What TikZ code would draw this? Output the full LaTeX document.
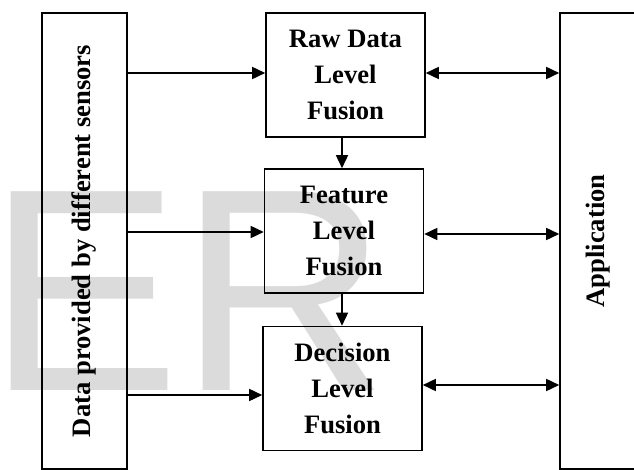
\documentclass[tikz,border=0pt]{standalone}
\usepackage{fontspec}
\setmainfont{Liberation Serif}
\newfontfamily\wmfont{Liberation Sans}
\usetikzlibrary{arrows.meta}
\tikzset{
  lbl/.style={font=\fontsize{26.6}{36}\selectfont\bfseries, align=center, inner sep=0pt},
  fusebox/.style={draw, line width=1.6pt, minimum width=159pt, minimum height=124pt, lbl},
  sidebox/.style={draw, line width=1.6pt, lbl},
  arr/.style={line width=1.6pt, -{Triangle[length=13pt,width=12pt]}},
  darr/.style={line width=1.6pt, {Triangle[length=13pt,width=12pt]}-{Triangle[length=13pt,width=12pt]}},
  wmtext/.style={text=gray!28, inner sep=0pt, font=\wmfont\fontsize{289}{289}\selectfont}
}
\begin{document}
\begin{tikzpicture}[x=1pt,y=-1pt]
  \useasboundingbox (0,0) rectangle (634,470);
  \clip (0,0) rectangle (634,470);
  % watermark
  \node[wmtext, anchor=base west] (wm) at (-13,390) {ER};
  % side boxes
  \node[sidebox, minimum width=85pt, minimum height=456pt] (src) at (84.5,241) {};
  \node[lbl, rotate=90] (srctxt) at (src.center) {Data provided by different sensors};
  \node[sidebox, minimum width=78pt, minimum height=456pt] (app) at (599,241) {};
  \node[lbl, rotate=90] (apptxt) at (598,241) {Application};
  % fusion levels
  \node[fusebox] (raw) at (345.5,75) {Raw Data\\Level\\Fusion};
  \node[fusebox] (feat) at (344,231) {Feature\\Level\\Fusion};
  \node[fusebox] (dec) at (342.5,388.5) {Decision\\Level\\Fusion};
  % sensor inputs
  \draw[arr] (src.east |- 0,73) -- (raw.west |- 0,73);
  \draw[arr] (src.east |- 0,232) -- (feat.west |- 0,232);
  \draw[arr] (src.east |- 0,395) -- (dec.west |- 0,395);
  % level chain
  \draw[arr] (342,137) coordinate (c1) -- (c1 |- feat.north);
  \draw[arr] (342,293) coordinate (c2) -- (c2 |- dec.north);
  % application links
  \draw[darr] (raw.east |- 0,73) -- (app.west |- 0,73);
  \draw[darr] (feat.east |- 0,234) -- (app.west |- 0,234);
  \draw[darr] (dec.east |- 0,385) -- (app.west |- 0,385);
\end{tikzpicture}
\end{document}
